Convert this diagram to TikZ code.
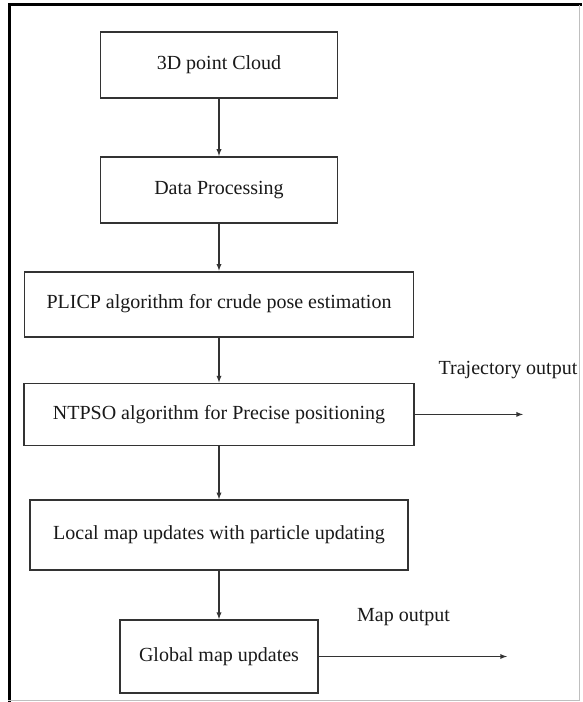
\documentclass[tikz,border=0pt]{standalone}
\usepackage{fontspec}
\setmainfont{Liberation Serif}
\usetikzlibrary{shapes,arrows,positioning}

\begin{document}
\begin{tikzpicture}[
    x=1pt, y=1pt,
    node distance=50pt,
    >=latex,
    stepbox/.style={rectangle, draw=black!80, line width=1.8pt, text=black!90,
        font=\fontsize{20}{24}\selectfont, inner sep=0pt},
    outlbl/.style={text=black!90, font=\fontsize{20}{24}\selectfont, inner sep=0pt},
    flow/.style={->, draw=black!80, line width=1.3pt}
]
\useasboundingbox (0,0) rectangle (582,-702);
% frame
\draw[black, line width=3pt] (9.5,-702) -- (9.5,-4.5) -- (582,-4.5);
\draw[black!25, line width=1pt] (8,-700.5) -- (579.5,-700.5) -- (579.5,-4.5);

\node[stepbox, minimum width=237pt, minimum height=66pt] (cloud) at (219,-65) {3D point Cloud};
\node[stepbox, minimum width=237pt, minimum height=66pt] (proc) [below=57pt of cloud] {Data Processing};
\node[stepbox, minimum width=389pt, minimum height=65pt] (plicp) [below=47pt of proc] {PLICP algorithm for crude pose estimation};
\node[stepbox, minimum width=390pt, minimum height=62pt] (ntpso) [below=45pt of plicp] {NTPSO algorithm for Precise positioning};
\node[stepbox, minimum width=378pt, minimum height=70pt] (localmap) [below=53pt of ntpso] {Local map updates with particle updating};
\node[stepbox, minimum width=198pt, minimum height=73pt] (globalmap) [below=48pt of localmap] {Global map updates};

\coordinate (trajend) at (523,-409);
\coordinate (mapend) at (507,-647);
\node[outlbl] (trajlbl) at (508,-370) {Trajectory output};
\node[outlbl] (maplbl) at (403.5,-617) {Map output};

\draw[flow] (cloud) -- (proc);
\draw[flow] (proc) -- (plicp);
\draw[flow] (plicp) -- (ntpso);
\draw[flow] (ntpso) -- (localmap);
\draw[flow] (localmap) -- (globalmap);
\draw[flow] (ntpso.east) -- (ntpso.east -| trajend);
\draw[flow] (globalmap.east) -- (globalmap.east -| mapend);
\end{tikzpicture}
\end{document}
